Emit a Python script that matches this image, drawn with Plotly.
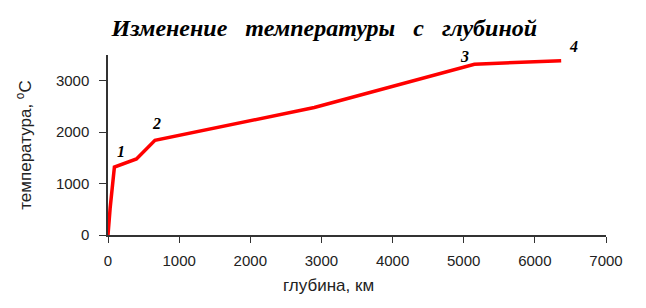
import plotly.graph_objects as go

depth_km = [0, 30, 90, 400, 660, 2900, 5150, 5560, 5980, 6370]
temperature_c = [0, 520, 1320, 1480, 1840, 2480, 3320, 3340, 3370, 3390]
marked_points = ["1", "2", "3", "4"]
marked_index = [2, 4, 6, 9]
x_ticks = [0, 1000, 2000, 3000, 4000, 5000, 6000, 7000]
y_ticks = [0, 1000, 2000, 3000]

fig = go.Figure()
fig.add_trace(go.Scatter(x=depth_km, y=temperature_c, mode="lines",
                         line=dict(color="#ff0000", width=3.5), showlegend=False,
                         hoverinfo="skip"))

offsets = [(7, 16), (2, 17), (-10, 8), (12, 14)]
for lbl, idx, (dx, dy) in zip(marked_points, marked_index, offsets):
    fig.add_annotation(x=depth_km[idx], y=temperature_c[idx],
                       text="<b><i>" + lbl + "</i></b>", showarrow=False,
                       xshift=dx, yshift=dy,
                       font=dict(family="Liberation Serif", size=16, color="black"))

axis_font = dict(family="Liberation Sans", size=15, color="#222")
title_font = dict(family="Liberation Sans", size=17, color="#222")

fig.add_annotation(xref="paper", yref="paper", x=0.442, y=-0.278,
                   xanchor="center", yanchor="middle", showarrow=False,
                   text="глубина, км", font=title_font)

fig.update_layout(
    width=646, height=308,
    margin=dict(l=107.5, r=40, t=55, b=73),
    paper_bgcolor="white", plot_bgcolor="white",
    title=dict(text="<b><i>Изменение   температуры   с   глубиной</i></b>",
               x=0.502, xanchor="center", y=0.912, yanchor="middle",
               font=dict(family="Liberation Serif", size=24, color="black")),
    xaxis=dict(range=[0, 7000], tickvals=x_ticks, ticktext=[str(v) for v in x_ticks],
               showgrid=False, zeroline=False, showline=True, linecolor="#333", linewidth=1.5,
               ticks="outside", ticklen=6, tickcolor="#333", tickfont=axis_font,
               ticklabelstandoff=5),
    yaxis=dict(range=[0, 3500], tickvals=y_ticks, ticktext=[str(v) for v in y_ticks],
               showgrid=False, zeroline=False, showline=True, linecolor="#333", linewidth=1.5,
               ticks="outside", ticklen=7, tickcolor="#333", tickfont=axis_font,
               ticklabelstandoff=7,
               title=dict(text="температура, <sup>o</sup>C", font=title_font, standoff=20)),
)

fig.write_html("out.html")
